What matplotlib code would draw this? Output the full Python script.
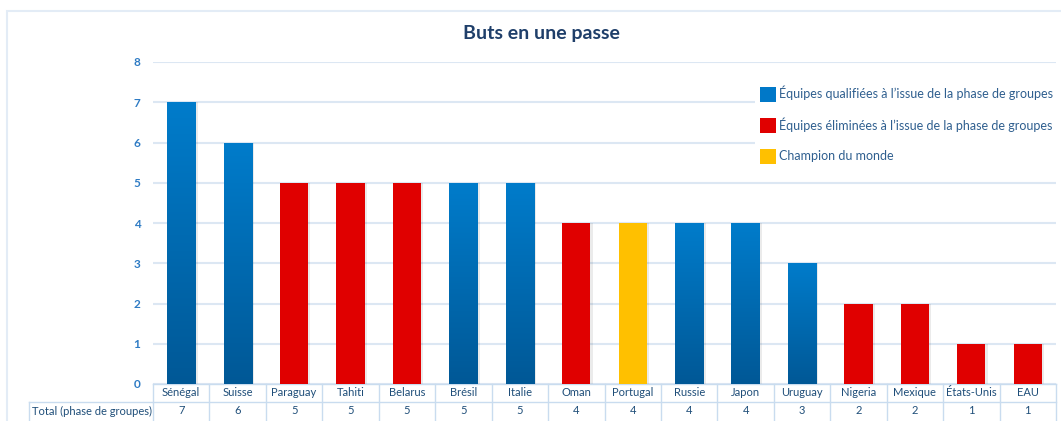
import numpy as np
import matplotlib
matplotlib.use("Agg")
import matplotlib.pyplot as plt
from matplotlib.patches import Patch, Rectangle
from matplotlib.lines import Line2D
from matplotlib.colors import LinearSegmentedColormap

plt.rcParams['font.family'] = ['Lato', 'DejaVu Sans']

# Data
teams = ["Sénégal", "Suisse", "Paraguay", "Tahiti", "Belarus", "Brésil", "Italie", "Oman",
         "Portugal", "Russie", "Japon", "Uruguay", "Nigeria", "Mexique", "États-Unis", "EAU"]
goals = [7, 6, 5, 5, 5, 5, 5, 4, 4, 4, 4, 3, 2, 2, 1, 1]
status = ["q", "q", "e", "e", "e", "q", "q", "e", "c", "q", "q", "q", "e", "e", "e", "e"]
row_label = "Total (phase de groupes)"
legend_labels = {"q": "Équipes qualifiées à l’issue de la phase de groupes",
                 "e": "Équipes éliminées à l’issue de la phase de groupes",
                 "c": "Champion du monde"}
colors = {"q": "#0078C8", "e": "#E00000", "c": "#FFC000"}

W, H = 1061, 421
fig = plt.figure(figsize=(W / 100, H / 100), dpi=100)
ax = fig.add_axes([153 / W, 1 - 384 / H, 903 / W, 322 / H])

grid_c = "#DCE7F3"
border_c = "#C9DCEF"
text_c = "#1F4E79"

# outer frame
fig.add_artist(Rectangle((7 / W, -0.1), 1.2, 1 - 11 / H + 0.1, transform=fig.transFigure,
                         fill=False, edgecolor="#E3ECF6", linewidth=1.5))

x = np.arange(len(teams))
bar_w = 0.5
blue_cmap = LinearSegmentedColormap.from_list("b", ["#005896", "#007CCB"])
grad = np.linspace(0, 1, 256).reshape(-1, 1)

for xi, v, s in zip(x, goals, status):
    # faint shadow
    ax.bar(xi + 0.04, v, bar_w, color="#000000", alpha=0.08, zorder=2)
    b = ax.bar(xi, v, bar_w, color=colors[s], zorder=3)[0]
    if s == "q":
        im = ax.imshow(grad, extent=[xi - bar_w / 2, xi + bar_w / 2, 0, v], origin="lower",
                       cmap=blue_cmap, aspect="auto", zorder=4)
        im.set_clip_path(b)

ax.set_xlim(-0.5, len(teams) - 0.5)
ax.set_ylim(0, 8)
ax.set_yticks(range(9))
ax.set_yticklabels([str(i) for i in range(9)], fontsize=8.5, fontweight="bold", color="#2E7BC4")
ax.tick_params(axis="y", length=0, pad=9)
ax.set_xticks([])
for sp in ax.spines.values():
    sp.set_visible(False)
ax.yaxis.grid(True, color=grid_c, linewidth=1.5, zorder=0)
ax.set_axisbelow(True)

# data table under the axis
row_h = 18 / 322
trans = ax.get_xaxis_transform()
for xi, name, v in zip(x, teams, goals):
    ax.text(xi, -row_h / 2, name, transform=trans, ha="center", va="center",
            fontsize=8, color=text_c, clip_on=False)
    ax.text(xi, -1.5 * row_h, str(v), transform=trans, ha="center", va="center",
            fontsize=8, color=text_c, clip_on=False)
for k in range(len(teams) + 1):
    ax.add_line(Line2D([k - 0.5, k - 0.5], [0, -2.2 * row_h], transform=trans,
                       color=border_c, linewidth=1, clip_on=False))
left_x = -0.5 - 124 / (903 / len(teams))
ax.add_line(Line2D([-0.5, len(teams) - 0.5], [0, 0], transform=trans,
                   color=border_c, linewidth=1, clip_on=False))
ax.add_line(Line2D([left_x, len(teams) - 0.5], [-row_h, -row_h], transform=trans,
                   color=border_c, linewidth=1, clip_on=False))
ax.add_line(Line2D([left_x, left_x], [-row_h, -2.2 * row_h], transform=trans,
                   color=border_c, linewidth=1, clip_on=False))
ax.text(left_x + 0.06, -1.5 * row_h, row_label, transform=trans, ha="left", va="center",
        fontsize=8, color=text_c, clip_on=False)

# title
fig.text(541 / W, 1 - 33 / H, "Buts en une passe", ha="center", va="center",
         fontsize=14, fontweight="bold", color="#1F3F6A")

# legend
handles = [Patch(facecolor=colors[k], edgecolor="none") for k in ["q", "e", "c"]]
leg = fig.legend(handles, [legend_labels[k] for k in ["q", "e", "c"]], loc="upper left",
                 bbox_to_anchor=(755 / W, 1 - 81 / H), frameon=True, fancybox=False,
                 framealpha=1, edgecolor="none", facecolor="white", fontsize=9,
                 handlelength=1.25, handleheight=1.45, handletextpad=0.25,
                 labelspacing=1.25, borderpad=0.4, borderaxespad=0)
for t in leg.get_texts():
    t.set_color("#2F5F8F")

fig.savefig("out.png", dpi=100)
